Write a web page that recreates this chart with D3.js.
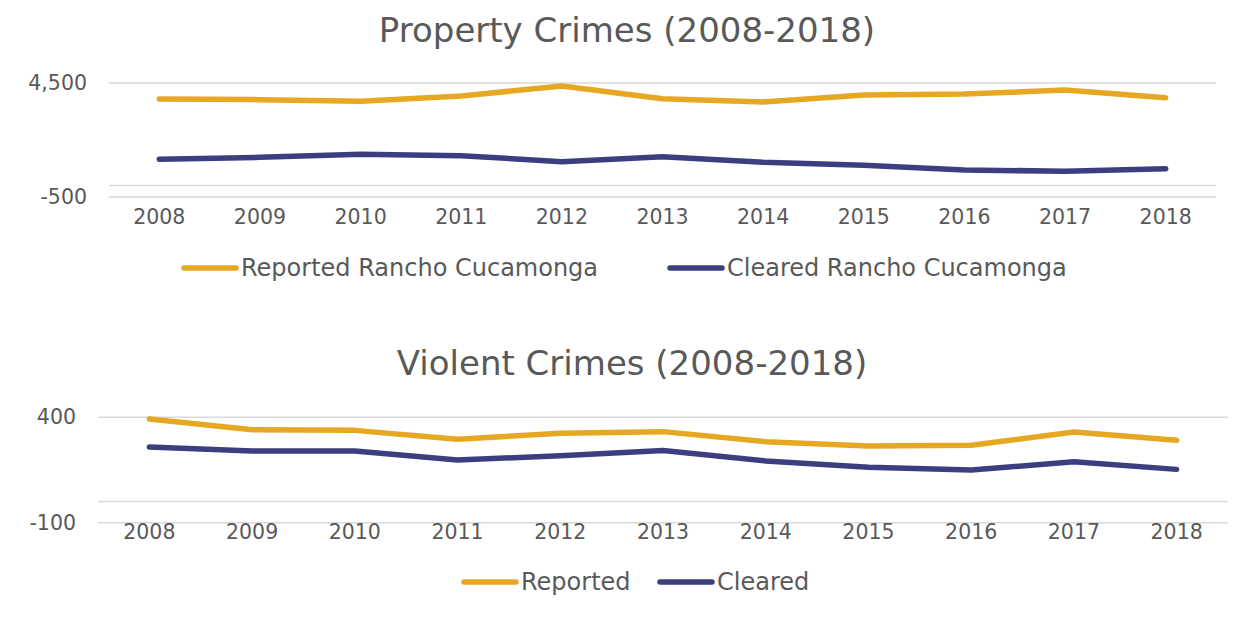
<!DOCTYPE html>
<html>
<head>
<meta charset="utf-8">
<script src="https://cdn.jsdelivr.net/npm/d3@7"></script>
<style>
  body { margin: 0; background: #fff; }
  svg text { font-family: "DejaVu Sans", sans-serif; fill: #595959; }
</style>
</head>
<body>
<div class="chartCont"></div>
<script>
const w = 1248;
const h = 617;

// data
const years = ["2008","2009","2010","2011","2012","2013","2014","2015","2016","2017","2018"];
const propReported = [3800, 3770, 3700, 3930, 4370, 3810, 3670, 3970, 4020, 4190, 3855];
const propCleared  = [1155, 1240, 1370, 1310, 1050, 1270, 1020, 890, 685, 630, 740];
const violReported = [392, 341, 338, 296, 324, 332, 284, 264, 267, 330, 291];
const violCleared  = [259, 240, 240, 197, 218, 242, 193, 163, 150, 189, 153];

const propTicks = [-500, 0, 4500];
const propLabels = [-500, 4500];
const violTicks = [-100, 0, 400];
const violLabels = [-100, 400];

const gold = "#E6A823";
const navy = "#3B3F80";

const svg = d3.select(".chartCont").append("svg")
    .attr("width", w)
    .attr("height", h);

function drawChart(opt) {
  const g = svg.append("g");

  const x = d3.scalePoint()
      .domain(years)
      .range([opt.left, opt.right])
      .padding(0.5);

  const y = d3.scaleLinear()
      .domain(opt.domain)
      .range([opt.bottom, opt.top]);

  // title
  g.append("text")
      .attr("x", opt.titleX)
      .attr("y", opt.titleY)
      .attr("text-anchor", "middle")
      .style("font-size", "34px")
      .text(opt.title);

  // gridlines
  g.selectAll(".grid")
    .data(opt.ticks)
    .enter().append("line")
      .attr("x1", opt.left)
      .attr("x2", opt.right)
      .attr("y1", d => y(d))
      .attr("y2", d => y(d))
      .attr("stroke", "#D9D9D9")
      .attr("stroke-width", 1.5);

  // y labels
  g.selectAll(".ylab")
    .data(opt.labels)
    .enter().append("text")
      .attr("x", opt.left - 22)
      .attr("y", d => y(d))
      .attr("dy", "0.35em")
      .attr("text-anchor", "end")
      .style("font-size", "20.5px")
      .text(d => d3.format(",")(d).replace("−", "-"));

  // x labels
  g.selectAll(".xlab")
    .data(years)
    .enter().append("text")
      .attr("x", d => x(d))
      .attr("y", opt.xLabY)
      .attr("dy", "0.35em")
      .attr("text-anchor", "middle")
      .style("font-size", "20.5px")
      .text(d => d);

  const line = d3.line()
      .x((d, i) => x(years[i]))
      .y(d => y(d));

  opt.series.forEach(s => {
    g.append("path")
        .datum(s.values)
        .attr("fill", "none")
        .attr("stroke", s.color)
        .attr("stroke-width", 5.5)
        .attr("stroke-linecap", "round")
        .attr("stroke-linejoin", "round")
        .attr("d", line);
  });

  // legend
  opt.legend.forEach((l, i) => {
    const s = opt.series[i];
    g.append("line")
        .attr("x1", l.x)
        .attr("x2", l.x + 52)
        .attr("y1", opt.legendY)
        .attr("y2", opt.legendY)
        .attr("stroke", s.color)
        .attr("stroke-width", 5.5)
        .attr("stroke-linecap", "round");
    g.append("text")
        .attr("x", l.x + 57)
        .attr("y", opt.legendY)
        .attr("dy", "0.35em")
        .style("font-size", "24px")
        .text(s.name);
  });
}

drawChart({
  title: "Property Crimes (2008-2018)",
  titleX: 627, titleY: 42,
  left: 109, right: 1216,
  top: 83, bottom: 197,
  xLabY: 217,
  domain: [-500, 4500],
  ticks: propTicks, labels: propLabels,
  series: [
    {name: "Reported Rancho Cucamonga", values: propReported, color: gold},
    {name: "Cleared Rancho Cucamonga", values: propCleared, color: navy}
  ],
  legendY: 268,
  legend: [{x: 184}, {x: 670}]
});

drawChart({
  title: "Violent Crimes (2008-2018)",
  titleX: 632, titleY: 375,
  left: 98, right: 1228,
  top: 417.3, bottom: 522.7,
  xLabY: 532,
  domain: [-100, 400],
  ticks: violTicks, labels: violLabels,
  series: [
    {name: "Reported", values: violReported, color: gold},
    {name: "Cleared", values: violCleared, color: navy}
  ],
  legendY: 582,
  legend: [{x: 464}, {x: 660}]
});
</script>
</body>
</html>
